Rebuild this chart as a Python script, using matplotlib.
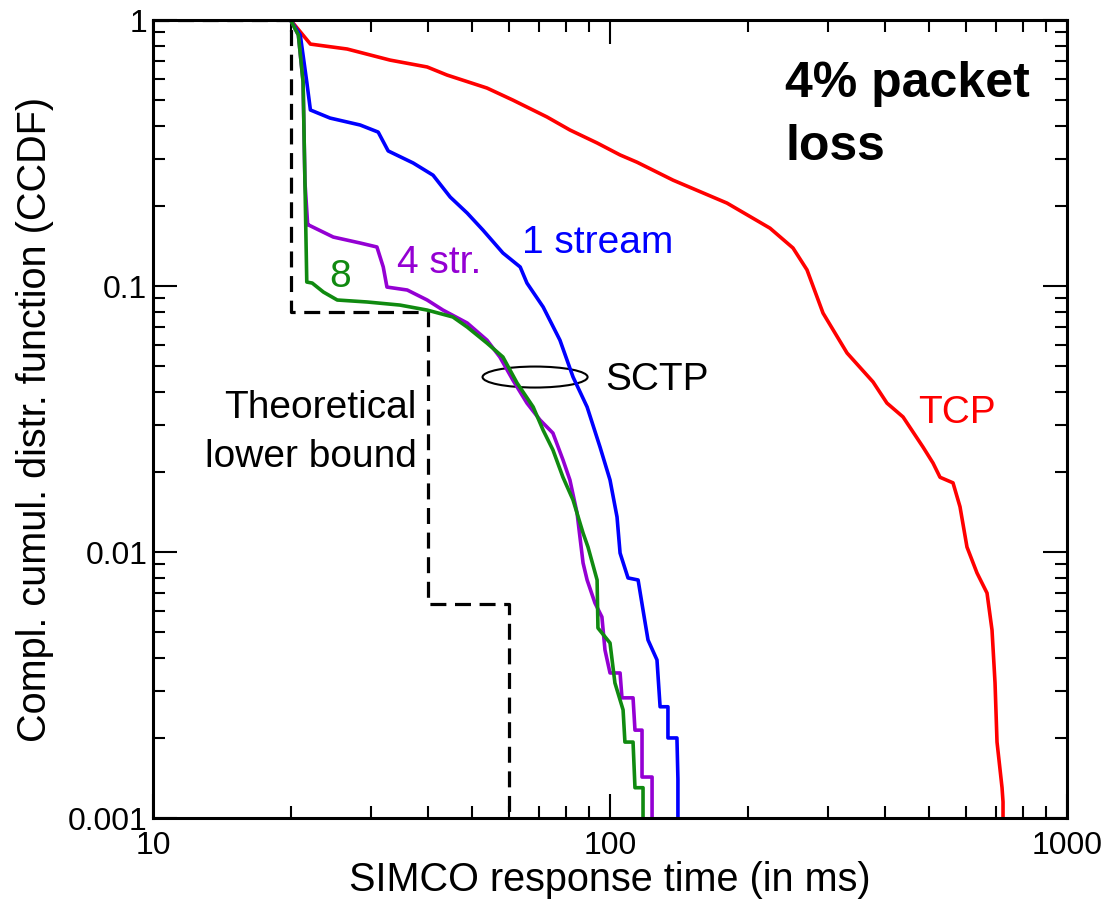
import matplotlib
matplotlib.use("Agg")
import matplotlib.pyplot as plt
from matplotlib.patches import Ellipse

# response time (ms) / CCDF values
tcp_t = [20.0, 22.1, 26.6, 33.0, 39.8, 44.0, 53.8, 61.3, 72.8, 81.7, 93.7, 105.2,
         114.6, 137.4, 180.3, 223.9, 251.4, 269.8, 292.5, 330.1, 376.3, 403.6,
         437.7, 484.1, 509.1, 527.4, 563.0, 583.2, 604.1, 635.4, 668.3, 685.3,
         695.8, 702.8, 720.8, 724.4, 724.4]
tcp_p = [1.0, 0.812, 0.778, 0.707, 0.666, 0.621, 0.555, 0.500, 0.432, 0.386, 0.345,
         0.311, 0.292, 0.250, 0.205, 0.165, 0.139, 0.115, 0.0791, 0.0560, 0.0436,
         0.0363, 0.0322, 0.0248, 0.0216, 0.0191, 0.0182, 0.0148, 0.01044, 0.00834,
         0.00701, 0.00509, 0.00322, 0.00193, 0.00130, 0.00115, 0.0009]

s1_t = [20.0, 21.0, 21.7, 22.1, 24.4, 28.4, 31.1, 32.7, 37.1, 41.0, 44.7, 48.7,
        52.7, 58.3, 63.6, 65.8, 71.4, 77.7, 83.0, 89.1, 95.1, 100.0, 103.6, 105.2,
        109.5, 115.2, 118.1, 121.1, 126.7, 128.7, 133.9, 133.9, 140.1, 140.8, 140.8]
s1_p = [1.0, 0.878, 0.585, 0.459, 0.428, 0.403, 0.379, 0.322, 0.290, 0.261, 0.216,
        0.188, 0.1624, 0.1331, 0.1179, 0.1026, 0.0834, 0.0626, 0.0455, 0.0351,
        0.0248, 0.01866, 0.01354, 0.00991, 0.00799, 0.00785, 0.00605, 0.00467,
        0.00393, 0.00262, 0.00262, 0.0020, 0.0020, 0.0014, 0.0009]

s4_t = [20.0, 20.8, 21.3, 21.5, 21.8, 21.9, 24.8, 28.4, 30.9, 31.9, 32.5, 36.0,
        39.8, 43.1, 48.7, 53.8, 57.4, 61.3, 65.8, 70.3, 75.0, 78.9, 81.7, 84.7,
        87.3, 89.1, 92.7, 96.0, 97.5, 100.0, 105.2, 106.2, 112.3, 113.4, 117.5,
        117.5, 123.6, 123.6]
s4_p = [1.0, 0.878, 0.585, 0.246, 0.1696, 0.1696, 0.1528, 0.1451, 0.1402, 0.1179,
        0.0991, 0.0966, 0.0886, 0.0812, 0.0726, 0.0626, 0.0541, 0.0443, 0.0363,
        0.03135, 0.0280, 0.0222, 0.01866, 0.01402, 0.0091, 0.00785, 0.00643,
        0.0057, 0.00428, 0.00351, 0.00351, 0.00283, 0.00283, 0.00214, 0.00214,
        0.001426, 0.001426, 0.0009]

s8_t = [20.0, 20.8, 21.3, 21.5, 21.7, 22.3, 23.6, 25.3, 29.4, 34.7, 39.8, 45.3,
        48.7, 53.8, 58.3, 62.6, 67.9, 71.4, 75.0, 78.9, 83.0, 87.3, 89.5, 93.7,
        94.1, 100.0, 102.5, 106.8, 107.8, 112.3, 113.4, 118.1, 118.1]
s8_p = [1.0, 0.878, 0.585, 0.246, 0.1035, 0.1026, 0.0949, 0.0886, 0.0871, 0.0848,
        0.0812, 0.0765, 0.0701, 0.0610, 0.0541, 0.0432, 0.0351, 0.0287, 0.0242,
        0.0191, 0.01569, 0.01179, 0.01044, 0.00785, 0.00518, 0.00455, 0.00322,
        0.00255, 0.00193, 0.00193, 0.0013, 0.0013, 0.0009]

bound_t = [10, 20, 20, 40, 40, 60, 60]
bound_p = [1.0, 1.0, 0.08, 0.08, 0.0064, 0.0064, 0.0009]

SANS = ["Liberation Sans", "DejaVu Sans"]

fig = plt.figure(figsize=(11.04, 9.02), dpi=100)
ax = fig.add_axes([0.1386, 0.0931, 0.8279, 0.8847])

ax.plot(bound_t, bound_p, color="black", lw=2.3, dashes=(5, 2.7))
ax.plot(tcp_t, tcp_p, color="#ff0000", lw=2.6)
ax.plot(s1_t, s1_p, color="#0000ff", lw=2.6)
ax.plot(s4_t, s4_p, color="#9400d3", lw=2.6)
ax.plot(s8_t, s8_p, color="#108a10", lw=2.6)

ax.set_xscale("log")
ax.set_yscale("log")
ax.set_xlim(10, 1000)
ax.set_ylim(0.001, 1)
ax.set_xticks([10, 100, 1000])
ax.set_xticklabels(["10", "100", "1000"])
ax.set_yticks([0.001, 0.01, 0.1, 1])
ax.set_yticklabels(["0.001", "0.01", "0.1", "1"])

ax.tick_params(which="both", direction="in", top=True, right=True, width=1.5)
ax.tick_params(which="major", length=17, pad=4)
ax.tick_params(axis="x", which="major", pad=9)
ax.tick_params(which="minor", length=8.5)
for lab in ax.get_xticklabels() + ax.get_yticklabels():
    lab.set_family(SANS)
    lab.set_fontsize(23)
for sp in ax.spines.values():
    sp.set_linewidth(2.2)

ax.set_xlabel("SIMCO response time (in ms)", family=SANS, fontsize=28.5, labelpad=0)
ax.set_ylabel("Compl. cumul. distr. function (CCDF)", family=SANS, fontsize=28.5, labelpad=10)

# annotations
ax.text(241.5, 0.5135, "4% packet", family=SANS, fontsize=36, fontweight="bold")
ax.text(241.5, 0.2977, "loss", family=SANS, fontsize=36, fontweight="bold")
ax.text(64.2, 0.133, "1 stream", color="#0000ff", family=SANS, fontsize=28)
ax.text(34.2, 0.112, "4 str.", color="#9400d3", family=SANS, fontsize=28)
ax.text(24.3, 0.0991, "8", color="#108a10", family=SANS, fontsize=28)
ax.text(97.5, 0.0406, "SCTP", color="black", family=SANS, fontsize=28)
ax.text(472, 0.0305, "TCP", color="#ff0000", family=SANS, fontsize=28)
ax.text(37.8, 0.0319, "Theoretical", ha="right", family=SANS, fontsize=28)
ax.text(37.8, 0.0209, "lower bound", ha="right", family=SANS, fontsize=28)

ax.add_patch(Ellipse((0.418, 0.5526), 0.1149, 0.0263, transform=ax.transAxes,
                     fill=False, edgecolor="black", lw=1.5))

fig.savefig("out.png", dpi=100)
